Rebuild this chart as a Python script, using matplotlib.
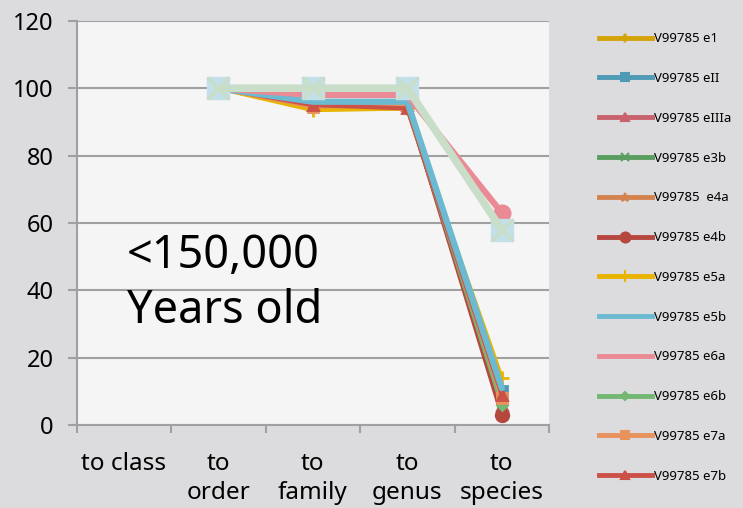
import matplotlib
matplotlib.use('Agg')
import matplotlib.pyplot as plt
import numpy as np

plt.rcParams['font.family'] = ['Noto Sans', 'DejaVu Sans']

categories = ['to class', 'to\norder', 'to\nfamily', 'to\ngenus', 'to\nspecies']

# values per series, nan where no value
e1 = [np.nan, 100, 94, 94, 7]
eII = [np.nan, 100, 96, 96, 10]
eIIIa = [np.nan, 100, 95, 95, 6]
e3b = [np.nan, 100, 95, 95, 5]
e4a = [np.nan, 100, 94.5, 94, 9]
e4b = [np.nan, 100, 95, 95, 3]
e5a = [np.nan, 100, 93.5, 94, 14]
e5b = [np.nan, 100, 96, 96, 11]
e6a = [np.nan, 100, 98, 98, 63]
e6b = [np.nan, 100, 95, 95, 6]
e7a = [np.nan, 100, 94.5, 95, 8]
e7b = [np.nan, 100, 95, 94, 9]
# extra series drawn without legend entries
extra_a = [np.nan, 100, 100, 100, 58]
extra_b = [np.nan, 100, 100, 100, 58]
extra_c = [np.nan, 100, 100, 100, 58]

series = [
    ('V99785 e1', e1, '#d4a30a', 'd', 5, 3, 2),
    ('V99785 eII', eII, '#4f9ab5', 's', 7, 3, 2),
    ('V99785 eIIIa', eIIIa, '#c8626d', '^', 7, 3, 2),
    ('V99785 e3b', e3b, '#5a9e5f', 'x', 7, 3, 2),
    ('V99785  e4a', e4a, '#d4834f', '*', 8, 3, 2),
    ('V99785 e4b', e4b, '#b5473f', 'o', 9, 3, 2),
    ('V99785 e5a', e5a, '#e8b400', '+', 10, 3, 2),
    ('V99785 e5b', e5b, '#6cbad2', '', 0, 4.5, 3),
    ('V99785 e6a', e6a, '#ea8a94', 'o', 12, 4.5, 3),
    ('V99785 e6b', e6b, '#72b872', 'D', 5, 3, 2),
    ('V99785 e7a', e7a, '#e8925e', 's', 7, 3, 2),
    ('V99785 e7b', e7b, '#cc5248', '^', 7, 3, 2),
]

fig = plt.figure(figsize=(7.43, 5.08), dpi=100)
fig.patch.set_facecolor('#dcdcde')
ax = fig.add_axes([0.103, 0.163, 0.636, 0.796])
ax.set_facecolor('#f5f5f5')

x = np.arange(len(categories))

handles = []
for label, vals, col, mk, ms, lw, z in series:
    if label == 'V99785 e6a':
        # marker only at the last point
        ax.plot(x, vals, color=col, lw=lw, marker=mk, ms=ms, markevery=[4],
                solid_capstyle='round', zorder=z)
        h, = ax.plot([], [], color=col, lw=3.5)
    else:
        ax.plot(x, vals, color=col, lw=lw, marker=mk, ms=ms, mew=2,
                solid_capstyle='round', zorder=z)
        h, = ax.plot([], [], color=col, lw=3.5, marker=mk, ms=ms * 0.8, mew=1.5)
    handles.append((h, label))

ax.plot(x, extra_c, color='#f4c3c8', lw=3, marker='^', ms=12, mec='#f4c3c8', zorder=4)
ax.plot(x, extra_b, color='#c3dfe8', lw=3, marker='s', ms=16, mec='#c3dfe8', zorder=4)
ax.plot(x, extra_a, color='#c8dec8', lw=5.5, marker='x', ms=16, mew=2.5, zorder=5)

ax.text(0.03, 46.6, '<150,000', fontsize=32.5, va='baseline', ha='left')
ax.text(0.03, 30.3, 'Years old', fontsize=32.5, va='baseline', ha='left')

ax.set_xlim(-0.5, 4.5)
ax.set_ylim(0, 120)
ax.set_yticks(np.arange(0, 121, 20))
ax.set_xticks(x)
ax.set_xticklabels(categories, fontsize=17.5, linespacing=1.3)
ax.set_xticks(np.arange(-0.5, 4.6, 1), minor=True)
ax.tick_params(axis='x', which='major', length=0, pad=19)
ax.tick_params(axis='x', which='minor', length=6, width=1.5, color='#a0a0a0')
ax.tick_params(axis='y', labelsize=17, length=6.5, width=1.5, color='#a0a0a0', pad=10)
ax.yaxis.grid(True, color='#a0a0a0', lw=1.5)
ax.set_axisbelow(True)
for s in ['top', 'right']:
    ax.spines[s].set_visible(False)
for s in ['left', 'bottom']:
    ax.spines[s].set_color('#a0a0a0')
    ax.spines[s].set_linewidth(1.5)

leg = fig.legend([h for h, _ in handles], [l for _, l in handles],
                 loc='upper left', bbox_to_anchor=(0.799, 0.947),
                 frameon=False, fontsize=9.5, labelspacing=2.03,
                 handlelength=4.0, handletextpad=0.15, borderaxespad=0)

fig.savefig('out.png', dpi=100, facecolor=fig.get_facecolor())
